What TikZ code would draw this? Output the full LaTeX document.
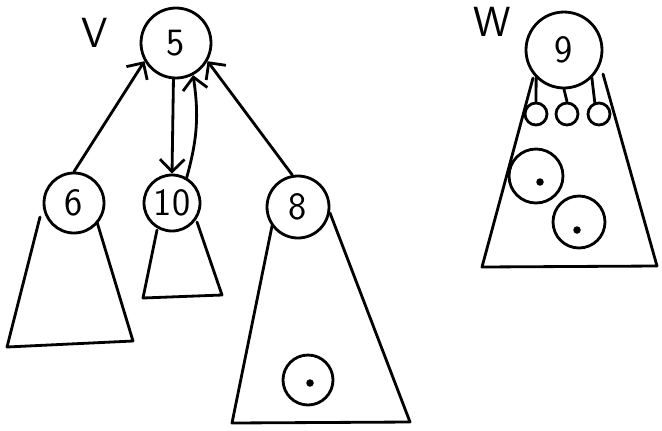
\documentclass[tikz,border=0pt]{standalone}
\usetikzlibrary{arrows.meta}
\begin{document}
\begin{tikzpicture}[x=0.02cm,y=-0.02cm,
  ink/.style={line width=1.6pt,line join=round,line cap=round},
  vert/.style={circle,draw,ink,inner sep=0pt,font=\sffamily\fontsize{22}{24}\selectfont},
  leaf/.style={circle,draw,ink,inner sep=0pt,minimum size=0.44cm},
  blob/.style={circle,draw,ink,inner sep=0pt},
  dotn/.style={circle,fill,inner sep=0pt,minimum size=0.15cm},
  arr/.style={ink,-{Straight Barb[length=7pt,width=14pt,line width=1.6pt]}},
  lbl/.style={font=\sffamily\fontsize{24}{26}\selectfont}]
\useasboundingbox (0,0) rectangle (662,430);
% labels
\node[lbl] (V) at (95,33) {V};
\node[lbl] (W) at (492,22) {W};
% tree V
\node[vert,minimum size=1.4cm] (n5) at (176,43) {5};
\node[vert,minimum size=1.2cm] (n6) at (74,203) {6};
\node[vert,minimum size=1.12cm] (n10) at (172,203) {10};
\node[vert,minimum size=1.24cm] (n8) at (298,207) {8};
\draw[arr] (n6.north) -- (n5.210);
\draw[arr] (n8.100) -- (n5.330);
\draw[arr] (n5.266) -- (n10.north);
\draw[arr] (n10.60) to[bend right=12] (n5.298);
% subtrees
\draw[ink] (40,217) -- (7,347) -- (133,341) -- (97,222);
\draw[ink] (157,230) -- (143,298) -- (222,295) -- (197,222);
\draw[ink] (272,226) -- (232,423) -- (410,422) -- (330,213);
\node[blob,minimum size=1.0cm] (c3) at (308,380) {};
\node[dotn] (d3) at (310,383) {};
% tree W
\node[vert,minimum size=1.52cm] (n9) at (564,50) {9};
\node[leaf] (s1) at (536,114) {};
\node[leaf] (s2) at (567,114) {};
\node[leaf] (s3) at (599,114) {};
\draw[ink] (s1.north) -- (n9.south west);
\draw[ink] (s2.north) -- (n9.south);
\draw[ink] (s3.110) -- (n9.south east);
\draw[ink] (533,78) -- (482,267) -- (657,266) -- (603,74);
\node[blob,minimum size=1.08cm] (c1) at (536,176) {};
\node[dotn] (d1) at (540,182) {};
\node[blob,minimum size=1.04cm] (c2) at (579,222) {};
\node[dotn] (d2) at (577,230) {};
\end{tikzpicture}
\end{document}
